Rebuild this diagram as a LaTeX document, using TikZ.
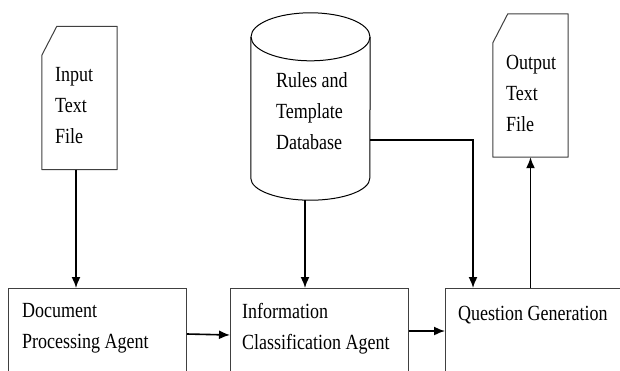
\documentclass[tikz,border=0pt]{standalone}
\usepackage{fontspec}
\setmainfont{Liberation Serif}
\usetikzlibrary{arrows.meta}

\tikzset{
  x=1pt, y=1pt,
  box/.style={draw=black!75, line width=1pt, minimum width=178, minimum height=140,
    anchor=north west, inner sep=0},
  frame/.style={minimum width=75, minimum height=143, inner sep=0},
  edge/.style={draw=black!75, line width=1pt, line join=round},
  txt/.style={font=\fontsize{18}{26}\selectfont, align=left, anchor=north west,
    inner sep=0, yscale=1.2},
  arr/.style={-{Latex[length=11pt,width=9pt]}, line width=1.6pt}
}

% outline of a text file with its top left corner cut off
\newcommand{\filepath}[1]{%
  \path[edge] ([yshift=-29]#1.north west) -- ([xshift=15]#1.north west)
    -- (#1.north east) -- (#1.south east) -- (#1.south west) -- cycle;}

\begin{document}
\begin{tikzpicture}

\clip (0,0) rectangle (620,-370);
\fill[white] (0,0) rectangle (620,-370);

% sources and store
\node[frame] (in) at (79.5,-98) {};
\node[frame] (out) at (530.5,-85.5) {};
\node[minimum width=119, minimum height=187, inner sep=0] (db) at (310.5,-106.5) {};
\filepath{in}
\filepath{out}
\draw[edge, draw=black] ([yshift=-24]db.north) ellipse [x radius=59.5, y radius=24];
\draw[edge, draw=black] ([yshift=-24]db.north west) -- ([yshift=22]db.south west)
  arc [start angle=180, end angle=360, x radius=59.5, y radius=22]
  -- ([yshift=-24]db.north east);
\node[txt] (in-txt) at (55,-67) {Input\\Text\\File};
\node[txt] (db-txt) at (276,-72) {Rules and\\Template\\Database};
\node[txt] (out-txt) at (506,-55) {Output\\Text\\File};

% agents
\node[box] (doc) at (8,-288) {};
\node[box] (cls) at (230,-288) {};
\node[box, minimum width=260] (qg) at (445,-288) {};
\node[txt] (doc-txt) at (22,-303) {Document\\Processing Agent};
\node[txt] (cls-txt) at (242,-303) {Information\\Classification Agent};
\node[txt] (qg-txt) at (458,-306) {Question Generation};

\draw[arr] ([xshift=-3.5]in.south) -- ([xshift=-3.5]in.south |- doc.north);
\draw[arr] ([xshift=-5.5]db.south) -- ([xshift=-5.5]db.south |- cls.north);
\draw[arr] ([yshift=-33.5]db.east) -| ([xshift=28]qg.north west);
\draw[arr] ([yshift=-46]doc.north east) -- ([yshift=-47]cls.north west);
\draw[arr] ([yshift=-43]cls.north east) -- ([yshift=-43]qg.north west);
\draw[arr] (out.south |- qg.north) -- (out.south);

\end{tikzpicture}
\end{document}
